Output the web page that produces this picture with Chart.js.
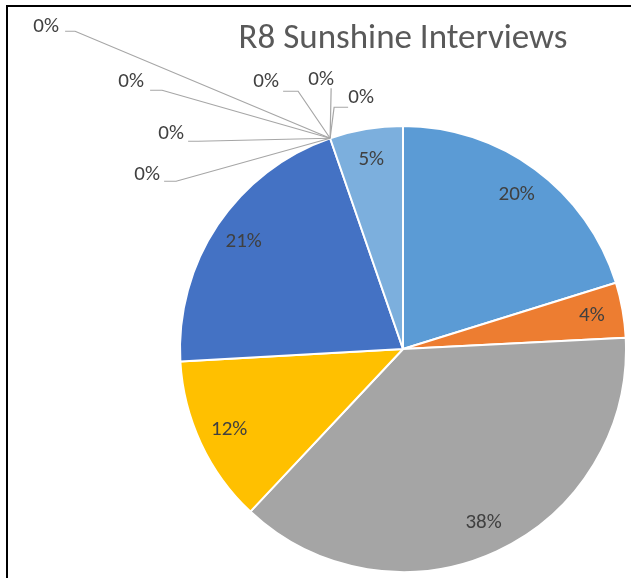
<!DOCTYPE html>
<html><head><meta charset="utf-8">
<script src="https://cdn.jsdelivr.net/npm/chart.js@4/dist/chart.umd.min.js"></script>
<style>
html,body{margin:0;padding:0;background:#fff;}
#wrap{position:relative;width:631px;height:578px;overflow:hidden;background:#fff;}
#frame{position:absolute;left:6px;top:5px;width:700px;height:700px;border-left:2px solid #000;border-top:2px solid #000;box-sizing:border-box;}
canvas{position:absolute;left:0;top:0;}
</style></head><body>
<div id="wrap"><div id="frame"></div><canvas id="c" width="631" height="578"></canvas></div>
<script>
const chartTitle = 'R8 Sunshine Interviews';
const categories = ['Category 1','Category 2','Category 3','Category 4','Category 5','Category 6','Category 7','Category 8','Category 9','Category 10','Category 11','Category 12','Category 13'];
const values = [20.2, 4.0, 37.8, 12.1, 20.6, 0, 0, 0, 0, 0, 0, 0, 5.3];
const sliceColors = ['#5B9BD5','#ED7D31','#A5A5A5','#FFC000','#4472C4','#70AD47','#255E91','#9E480E','#636363','#997300','#264478','#43682B','#7CAFDD'];

const FONT = 'Calibri, Carlito, Lato, sans-serif';
// label placement for zero-value slices (offsets from the slice's point on the rim)
const zeroLabelLayout = [
  {t:[-284,-112], l:[[-265,-107],[-255,-107]]},
  {t:[-199,-57], l:[[-180,-48],[-168,-48]]},
  {t:[-159,-5], l:[[-142,3],[-132,3]]},
  {t:[-183,36], l:[[-166,43],[-154,43]]},
  {t:[-64,-57], l:[[-47,-47],[-32,-47]]},
  {t:[-9,-59], l:[[1,-50],[1,-48]]},
  {t:[31,-41], l:[[18,-31],[4,-31]]}
];

const labelPlugin = {
  id: 'sliceLabels',
  afterDatasetsDraw(chart) {
    const ctx = chart.ctx;
    const meta = chart.getDatasetMeta(0);
    const data = chart.data.datasets[0].data;
    const total = data.reduce((a,b)=>a+b,0);
    ctx.save();
    ctx.font = '21px ' + FONT;
    ctx.fillStyle = '#404040';
    ctx.textAlign = 'center';
    ctx.textBaseline = 'middle';
    let z = 0;
    meta.data.forEach((arc, i) => {
      const p = arc.getProps(['x','y','startAngle','endAngle','outerRadius'], true);
      const txt = Math.round(data[i] / total * 100) + '%';
      if (data[i] > 0) {
        const mid = (p.startAngle + p.endAngle) / 2;
        const r = p.outerRadius * 0.86;
        ctx.fillText(txt, p.x + Math.cos(mid) * r, p.y + Math.sin(mid) * r);
      } else {
        const ax = p.x + Math.cos(p.startAngle) * p.outerRadius;
        const ay = p.y + Math.sin(p.startAngle) * p.outerRadius;
        const L = zeroLabelLayout[z++ % zeroLabelLayout.length];
        ctx.strokeStyle = '#A6A6A6';
        ctx.lineWidth = 1.2;
        ctx.beginPath();
        ctx.moveTo(ax + L.l[0][0], ay + L.l[0][1]);
        ctx.lineTo(ax + L.l[1][0], ay + L.l[1][1]);
        ctx.lineTo(ax, ay);
        ctx.stroke();
        ctx.fillText(txt, ax + L.t[0], ay + L.t[1]);
      }
    });
    ctx.restore();
  }
};

new Chart(document.getElementById('c'), {
  type: 'pie',
  data: {
    labels: categories,
    datasets: [{
      data: values,
      backgroundColor: sliceColors,
      borderColor: '#FFFFFF',
      borderWidth: 2
    }]
  },
  options: {
    responsive: false,
    animation: false,
    layout: { padding: { left: 179, right: 4, top: 15, bottom: 5 } },
    plugins: {
      legend: { display: false },
      tooltip: { enabled: false },
      title: {
        display: true,
        text: chartTitle,
        color: '#595959',
        font: { family: FONT, size: 35, weight: 'normal' },
        padding: { top: 3.5, bottom: 64.5 }
      }
    }
  },
  plugins: [labelPlugin]
});
</script>
</body></html>
